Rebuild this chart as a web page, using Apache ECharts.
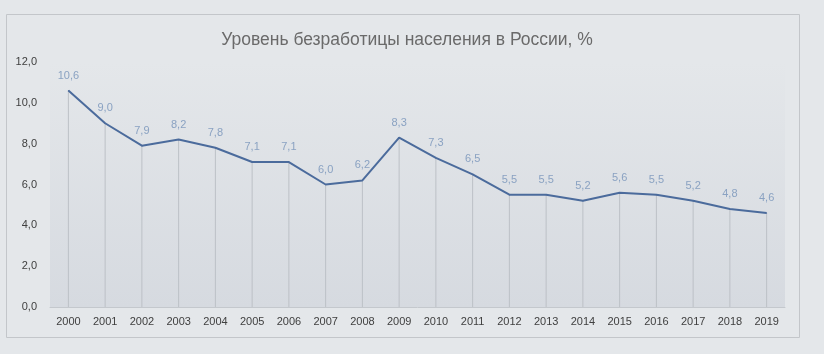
<!DOCTYPE html>
<html><head><meta charset="utf-8">
<script src="https://cdn.jsdelivr.net/npm/echarts@6/dist/echarts.min.js"></script>
<style>html,body{margin:0;padding:0;background:#e4e7ea}#c{width:824px;height:354px}</style>
</head><body><div id="c"></div>
<script>
const years = ['2000','2001','2002','2003','2004','2005','2006','2007','2008','2009','2010','2011','2012','2013','2014','2015','2016','2017','2018','2019'];
const rates = [10.6, 9.0, 7.9, 8.2, 7.8, 7.1, 7.1, 6.0, 6.2, 8.3, 7.3, 6.5, 5.5, 5.5, 5.2, 5.6, 5.5, 5.2, 4.8, 4.6];
const titleText = 'Уровень безработицы населения в России, %';
const fmt = v => v.toFixed(1).replace('.', ',');
const chart = echarts.init(document.getElementById('c'));
chart.setOption({
  backgroundColor: '#e4e7ea',
  animation: false,
  textStyle: { fontFamily: 'Liberation Sans' },
  title: { text: titleText, left: 402, top: 26, textAlign: 'center',
    textStyle: { fontSize: 17.5, fontWeight: 'normal', color: '#6a6a6a', fontFamily: 'Liberation Sans' } },
  graphic: [{ type: 'rect', shape: { x: 6.5, y: 14.5, width: 793, height: 323 }, silent: true, z: -1,
    style: { fill: 'none', stroke: '#c3c6ca', lineWidth: 1 } }],
  grid: { left: 50, right: 39, top: 62, bottom: 47, show: true, borderWidth: 0,
    backgroundColor: { type: 'linear', x: 0, y: 0, x2: 0, y2: 1,
      colorStops: [{ offset: 0, color: '#e4e7ea' }, { offset: 1, color: '#d6dae0' }] } },
  xAxis: { type: 'category', data: years, boundaryGap: true,
    axisLine: { lineStyle: { color: '#c4c8cd' } },
    axisTick: { show: false },
    axisLabel: { color: '#404040', fontSize: 11, margin: 9 },
    splitLine: { show: false } },
  yAxis: { type: 'value', min: 0, max: 12, interval: 2,
    axisLine: { show: false }, axisTick: { show: false },
    splitLine: { show: false },
    axisLabel: { color: '#404040', fontSize: 11, margin: 13, formatter: v => fmt(v) } },
  series: [
    { type: 'bar', data: rates, barWidth: 1, silent: true, z: 1,
      itemStyle: { color: '#bcc0c6' } },
    { type: 'line', data: rates, z: 3, symbol: 'circle', symbolSize: 1, showSymbol: true,
      itemStyle: { color: '#4b6b9c' },
      lineStyle: { color: '#4b6b9c', width: 2 },
      label: { show: true, position: 'top', distance: 9, color: '#8aa2c2', fontSize: 11,
        formatter: p => fmt(p.value) },
      labelLayout: { hideOverlap: false } }
  ]
});
</script></body></html>
